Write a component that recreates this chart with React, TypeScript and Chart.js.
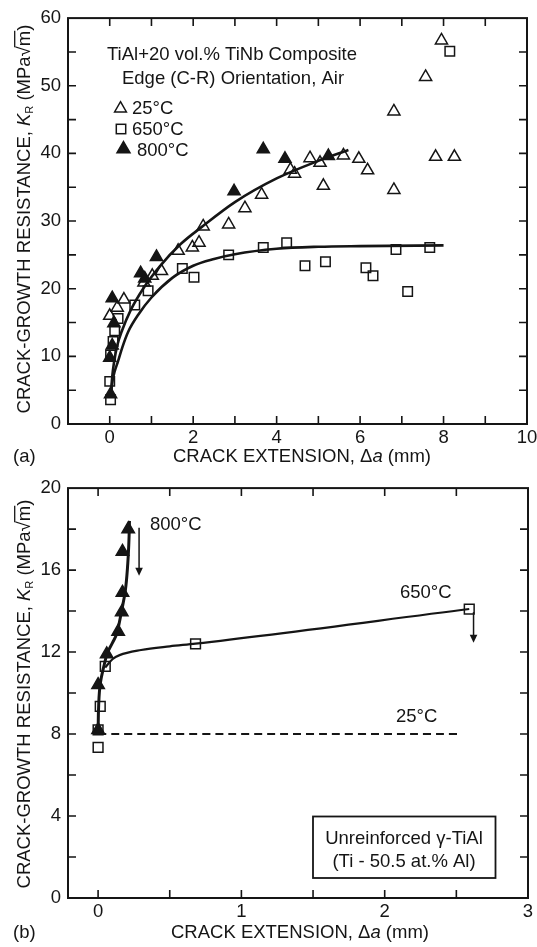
import React, { useEffect, useRef } from "react";
import { Chart, registerables } from "chart.js";
Chart.register(...registerables);

const FONT = "'Liberation Sans', Arial, Helvetica, sans-serif";
const FS = 18.5;
const INK = "#151515";
const CW = 560;

// ---------- Panel (a): TiAl + 20 vol.% TiNb composite ----------
const A_X_LABELS = [0, 2, 4, 6, 8, 10];
const A_Y_LABELS = [0, 10, 20, 30, 40, 50, 60];
const A_X_TICKS = [0, 1, 2, 3, 4, 5, 6, 7, 8, 9];
const A_Y_TICKS = [5, 10, 15, 20, 25, 30, 35, 40, 45, 50, 55];

const A25_X = [0.0, 0.18, 0.34, 0.82, 1.02, 1.24, 1.64, 1.98, 2.14, 2.24, 2.85, 3.24, 3.64, 4.33, 4.43, 4.8, 5.04, 5.12, 5.6, 5.97, 6.18, 6.81, 6.81, 7.57, 7.81, 7.95, 8.26];
const A25_Y = [16.0, 17.2, 18.4, 20.9, 21.9, 22.6, 25.6, 26.1, 26.8, 29.2, 29.5, 31.9, 33.9, 37.6, 37.0, 39.3, 38.6, 35.2, 39.7, 39.2, 37.5, 46.2, 34.6, 51.3, 39.5, 56.7, 39.5];

const A650_X = [0.02, 0.0, 0.02, 0.08, 0.12, 0.2, 0.6, 0.92, 1.74, 2.02, 2.85, 3.68, 4.24, 4.68, 5.17, 6.14, 6.31, 6.86, 7.14, 7.67, 8.15];
const A650_Y = [3.6, 6.3, 10.2, 12.2, 13.8, 15.6, 17.6, 19.7, 23.0, 21.7, 25.0, 26.1, 26.8, 23.4, 24.0, 23.1, 21.9, 25.8, 19.6, 26.1, 55.1];

const A800_X = [0.02, 0.0, 0.06, 0.1, 0.06, 0.74, 0.84, 1.12, 2.98, 3.68, 4.2, 5.24];
const A800_Y = [4.4, 9.8, 11.6, 14.9, 18.6, 22.3, 21.5, 24.7, 34.4, 40.6, 39.2, 39.6];

const AUP_X = [0.03, 0.06, 0.1, 0.18, 0.3, 0.5, 0.8, 1.2, 1.7, 2.2, 3.0, 4.0, 5.0, 5.72];
const AUP_Y = [4.5, 7.0, 9.0, 11.6, 13.9, 16.8, 20.0, 23.3, 26.6, 29.1, 32.8, 36.3, 38.9, 40.5];
const ALO_X = [0.03, 0.07, 0.12, 0.2, 0.3, 0.44, 0.7, 1.0, 1.5, 2.0, 2.5, 3.0, 4.0, 5.0, 6.0, 8.0];
const ALO_Y = [4.5, 6.5, 7.8, 9.3, 11.3, 13.6, 16.3, 18.7, 21.6, 23.4, 24.4, 25.1, 25.9, 26.2, 26.3, 26.4];

// ---------- Panel (b): unreinforced gamma-TiAl ----------
const B_X_LABELS = [0, 1, 2, 3];
const B_Y_LABELS = [0, 4, 8, 12, 16, 20];
const B_X_TICKS = [0, 0.5, 1, 1.5, 2, 2.5];
const B_Y_TICKS = [2, 4, 6, 8, 10, 12, 14, 16, 18];

const B800_X = [0.0, 0.0, 0.06, 0.14, 0.165, 0.17, 0.17, 0.21];
const B800_Y = [8.2, 10.4, 11.9, 13.0, 13.95, 14.9, 16.9, 18.0];
const B650_X = [0.0, 0.0, 0.015, 0.05, 0.68, 2.59];
const B650_Y = [7.35, 8.2, 9.35, 11.3, 12.4, 14.1];

const B800C_X = [0.0, 0.004, 0.015, 0.04, 0.065, 0.1, 0.13, 0.165, 0.19, 0.207, 0.215, 0.219];
const B800C_Y = [8.0, 9.4, 10.45, 11.3, 11.95, 12.45, 12.9, 14.05, 15.0, 16.3, 17.4, 18.4];
const B650C_X = [0.05, 0.1, 0.15, 0.3, 0.5, 0.68, 2.59];
const B650C_Y = [11.25, 11.65, 11.85, 12.1, 12.28, 12.41, 14.1];
const B25_X = [0.0, 2.53];
const B25_Y = [8.0, 8.0];

const ARROW_800 = { x: 0.286, from: 18.06, to: 15.72 };
const ARROW_650 = { x: 2.62, from: 13.95, to: 12.45 };

type Part = { t: string; italic?: boolean; size?: number; dy?: number; over?: boolean };

const fontOf = (p: Part) => `${p.italic ? "italic " : ""}${p.size ?? FS}px ${FONT}`;

function drawRich(ctx: CanvasRenderingContext2D, parts: Part[], x: number, y: number, align: "left" | "center") {
  let total = 0;
  for (const p of parts) {
    ctx.font = fontOf(p);
    total += ctx.measureText(p.t).width;
  }
  let cx = align === "center" ? x - total / 2 : x;
  ctx.textAlign = "left";
  ctx.textBaseline = "alphabetic";
  for (const p of parts) {
    ctx.font = fontOf(p);
    const w = ctx.measureText(p.t).width;
    ctx.fillText(p.t, cx, y + (p.dy ?? 0));
    if (p.over) {
      ctx.beginPath();
      ctx.lineWidth = 1.3;
      ctx.moveTo(cx - 1, y - FS * 0.8);
      ctx.lineTo(cx + w, y - FS * 0.8);
      ctx.stroke();
    }
    cx += w;
  }
}

const Y_TITLE: Part[] = [
  { t: "CRACK-GROWTH RESISTANCE, " },
  { t: "K", italic: true },
  { t: "R", size: 11, dy: 3 },
  { t: " (MPa\u221A" },
  { t: "m", over: true },
  { t: ")" },
];
const X_TITLE: Part[] = [{ t: "CRACK EXTENSION, \u0394" }, { t: "a", italic: true }, { t: " (mm)" }];

function triangle(ctx: CanvasRenderingContext2D, x: number, y: number, r: number, filled: boolean) {
  ctx.beginPath();
  for (let k = 0; k < 3; k++) {
    const a = (k * 2 * Math.PI) / 3;
    const px = x + Math.sin(a) * r;
    const py = y - Math.cos(a) * r;
    if (k === 0) ctx.moveTo(px, py);
    else ctx.lineTo(px, py);
  }
  ctx.closePath();
  if (filled) ctx.fill();
  ctx.stroke();
}

function framePlugin(id: string, xTicks: number[], yTicks: number[], extra: (c: any, ctx: CanvasRenderingContext2D) => void) {
  return {
    id,
    afterDraw(chart: any) {
      const { ctx, chartArea: a, scales } = chart;
      const TL = 8;
      ctx.save();
      ctx.strokeStyle = INK;
      ctx.fillStyle = INK;
      ctx.lineWidth = 2;
      ctx.strokeRect(a.left, a.top, a.right - a.left, a.bottom - a.top);
      ctx.lineWidth = 1.6;
      ctx.beginPath();
      for (const v of xTicks) {
        const px = scales.x.getPixelForValue(v);
        ctx.moveTo(px, a.bottom);
        ctx.lineTo(px, a.bottom - TL);
        ctx.moveTo(px, a.top);
        ctx.lineTo(px, a.top + TL);
      }
      for (const v of yTicks) {
        const py = scales.y.getPixelForValue(v);
        ctx.moveTo(a.left, py);
        ctx.lineTo(a.left + TL, py);
        ctx.moveTo(a.right, py);
        ctx.lineTo(a.right - TL, py);
      }
      ctx.stroke();
      extra(chart, ctx);
      ctx.restore();
    },
  };
}

const pts = (xs: number[], ys: number[]) => xs.map((x, i) => ({ x, y: ys[i] }));

const markerDs = (xs: number[], ys: number[], style: string, filled: boolean, r: number) => ({
  data: pts(xs, ys),
  showLine: false,
  pointStyle: style,
  pointRadius: r,
  pointHoverRadius: r,
  pointBackgroundColor: filled ? INK : "rgba(0,0,0,0)",
  pointBorderColor: INK,
  pointBorderWidth: 1.5,
});

const curveDs = (xs: number[], ys: number[], w: number, mode: "monotone" | "tension", dash: number[] = []) => ({
  data: pts(xs, ys),
  showLine: true,
  borderColor: INK,
  borderWidth: w,
  borderDash: dash,
  pointRadius: 0,
  pointHoverRadius: 0,
  fill: false,
  tension: 0.4,
  cubicInterpolationMode: mode === "monotone" ? "monotone" : "default",
});

function axes(xmin: number, xmax: number, ymin: number, ymax: number, xLabels: number[], yLabels: number[], xH: number, yW: number) {
  const tickFont = { family: FONT, size: FS };
  return {
    x: {
      type: "linear",
      min: xmin,
      max: xmax,
      grid: { display: false, drawTicks: false },
      border: { display: false },
      ticks: { font: tickFont, color: INK, padding: 3, maxRotation: 0, autoSkip: false },
      afterBuildTicks: (s: any) => {
        s.ticks = xLabels.map((v) => ({ value: v }));
      },
      afterFit: (s: any) => {
        s.height = xH;
      },
    },
    y: {
      type: "linear",
      min: ymin,
      max: ymax,
      grid: { display: false, drawTicks: false },
      border: { display: false },
      ticks: { font: tickFont, color: INK, padding: 7, autoSkip: false },
      afterBuildTicks: (s: any) => {
        s.ticks = yLabels.map((v) => ({ value: v }));
      },
      afterFit: (s: any) => {
        s.width = yW;
      },
    },
  };
}

export default function App() {
  const refA = useRef<HTMLCanvasElement>(null);
  const refB = useRef<HTMLCanvasElement>(null);

  useEffect(() => {
    const extraA = (chart: any, ctx: CanvasRenderingContext2D) => {
      const a = chart.chartArea;
      ctx.fillStyle = INK;
      ctx.strokeStyle = INK;
      ctx.save();
      ctx.translate(29.5, (a.top + a.bottom) / 2 - 2);
      ctx.rotate(-Math.PI / 2);
      drawRich(ctx, Y_TITLE, 0, 0, "center");
      ctx.restore();
      drawRich(ctx, X_TITLE, 302, 461.5, "center");
      drawRich(ctx, [{ t: "(a)" }], 13, 461.5, "left");
      drawRich(ctx, [{ t: "TiAl+20 vol.% TiNb Composite" }], 232, 60, "center");
      drawRich(ctx, [{ t: "Edge (C-R) Orientation, Air" }], 233, 83.5, "center");
      ctx.lineWidth = 1.5;
      triangle(ctx, 120.5, 108.5, 6.8, false);
      drawRich(ctx, [{ t: "25\u00B0C" }], 132, 113.5, "left");
      ctx.strokeRect(116.3, 124.3, 9.4, 9.4);
      drawRich(ctx, [{ t: "650\u00B0C" }], 132, 135, "left");
      triangle(ctx, 123.5, 149, 7.5, true);
      drawRich(ctx, [{ t: "800\u00B0C" }], 137, 155.5, "left");
    };

    const extraB = (chart: any, ctx: CanvasRenderingContext2D) => {
      const a = chart.chartArea;
      const sx = chart.scales.x;
      const sy = chart.scales.y;
      ctx.fillStyle = INK;
      ctx.strokeStyle = INK;
      ctx.save();
      ctx.translate(29.5, (a.top + a.bottom) / 2 + 1);
      ctx.rotate(-Math.PI / 2);
      drawRich(ctx, Y_TITLE, 0, 0, "center");
      ctx.restore();
      drawRich(ctx, X_TITLE, 300, 467.5, "center");
      drawRich(ctx, [{ t: "(b)" }], 13, 467.5, "left");
      drawRich(ctx, [{ t: "800\u00B0C" }], 150, 60, "left");
      drawRich(ctx, [{ t: "650\u00B0C" }], 400, 127.5, "left");
      drawRich(ctx, [{ t: "25\u00B0C" }], 396, 251.5, "left");
      for (const ar of [ARROW_800, ARROW_650]) {
        const px = sx.getPixelForValue(ar.x);
        const p1 = sy.getPixelForValue(ar.from);
        const p2 = sy.getPixelForValue(ar.to);
        ctx.lineWidth = 1.5;
        ctx.beginPath();
        ctx.moveTo(px, p1);
        ctx.lineTo(px, p2 - 6);
        ctx.stroke();
        ctx.beginPath();
        ctx.moveTo(px - 3.8, p2 - 8);
        ctx.lineTo(px + 3.8, p2 - 8);
        ctx.lineTo(px, p2);
        ctx.closePath();
        ctx.fill();
      }
      ctx.lineWidth = 1.8;
      ctx.strokeRect(313, 346.5, 182.5, 61.5);
      drawRich(ctx, [{ t: "Unreinforced \u03B3-TiAl" }], 404, 373.5, "center");
      drawRich(ctx, [{ t: "(Ti - 50.5 at.% Al)" }], 404, 396.5, "center");
    };

    const chartA = new Chart(refA.current as HTMLCanvasElement, {
      type: "scatter",
      data: {
        datasets: [
          markerDs(A25_X, A25_Y, "triangle", false, 7),
          markerDs(A650_X, A650_Y, "rect", false, 6.7),
          markerDs(A800_X, A800_Y, "triangle", true, 7),
          curveDs(AUP_X, AUP_Y, 2.6, "monotone"),
          curveDs(ALO_X, ALO_Y, 2.6, "monotone"),
        ] as any,
      },
      options: {
        animation: false,
        responsive: false,
        devicePixelRatio: 1,
        layout: { padding: { left: 0, right: CW - 527, top: 13, bottom: 0 } },
        plugins: { legend: { display: false }, tooltip: { enabled: false } },
        scales: axes(-1, 10, 0, 60, A_X_LABELS, A_Y_LABELS, 470 - 424, 68) as any,
      },
      plugins: [framePlugin("frameA", A_X_TICKS, A_Y_TICKS, extraA)],
    });

    const chartB = new Chart(refB.current as HTMLCanvasElement, {
      type: "scatter",
      data: {
        datasets: [
          markerDs(B650_X, B650_Y, "rect", false, 6.9),
          markerDs(B800_X, B800_Y, "triangle", true, 7.2),
          curveDs(B800C_X, B800C_Y, 3, "tension"),
          curveDs(B650C_X, B650C_Y, 2.2, "monotone"),
          curveDs(B25_X, B25_Y, 2, "tension", [8, 5]),
        ] as any,
      },
      options: {
        animation: false,
        responsive: false,
        devicePixelRatio: 1,
        layout: { padding: { left: 0, right: CW - 528, top: 15, bottom: 0 } },
        plugins: { legend: { display: false }, tooltip: { enabled: false } },
        scales: axes(-0.21, 3, 0, 20, B_X_LABELS, B_Y_LABELS, 477 - 428, 68) as any,
      },
      plugins: [framePlugin("frameB", B_X_TICKS, B_Y_TICKS, extraB)],
    });

    return () => {
      chartA.destroy();
      chartB.destroy();
    };
  }, []);

  return (
    <div style={{ position: "absolute", left: 0, top: 0, width: 537, height: 947, overflow: "hidden", background: "#fff" }}>
      <canvas ref={refA} width={CW} height={470} style={{ position: "absolute", left: 0, top: 0, width: CW, height: 470, display: "block" }} />
      <canvas ref={refB} width={CW} height={477} style={{ position: "absolute", left: 0, top: 470, width: CW, height: 477, display: "block" }} />
    </div>
  );
}
